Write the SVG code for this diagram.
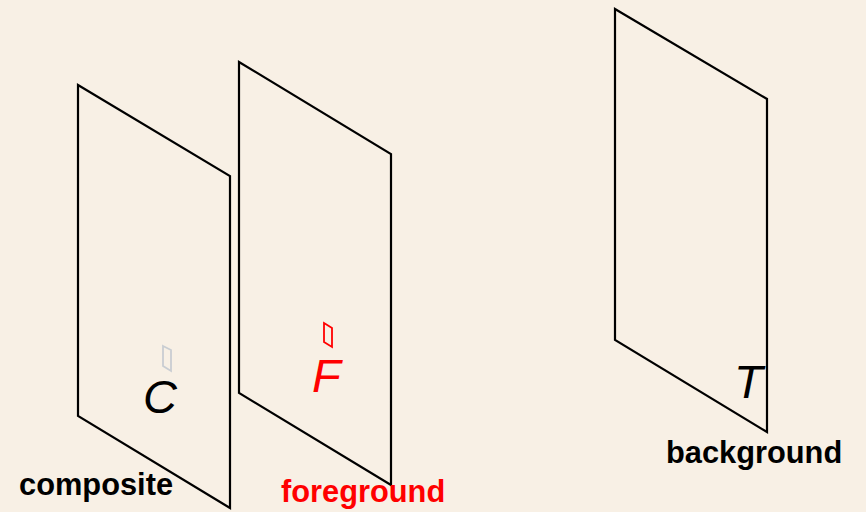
<svg xmlns="http://www.w3.org/2000/svg" width="866" height="512" viewBox="0 0 866 512">
<style>
.panel{fill:none;stroke:#000;stroke-width:2.2;stroke-linejoin:miter}
.lbl{font-family:"Liberation Sans",Arial,sans-serif;font-weight:bold;font-size:30.8px}
.sym{font-family:"Liberation Sans",Arial,sans-serif;font-style:italic;font-size:47px}
</style>
<rect width="866" height="512" fill="#f8f0e5"/>
<g id="composite">
<polygon class="panel" points="78,85 230,176 230,508 78,416"/>
<polygon points="163,346 171,350 171,371 163,366" fill="none" stroke="#c9cdd2" stroke-width="1.8"/>
<text class="sym" x="143" y="413" fill="#000">C</text>
<text class="lbl" x="19" y="495" fill="#000">composite</text>
</g>
<g id="foreground">
<polygon class="panel" points="239,62 391,154 391,485 239,393"/>
<polygon points="324,323 332,328 332,347 324,342" fill="none" stroke="#ff0000" stroke-width="1.8"/>
<text class="sym" x="312" y="392" fill="#ff0000">F</text>
<text class="lbl" x="281" y="502" fill="#ff0000">foreground</text>
</g>
<g id="background">
<polygon class="panel" points="615,9 767,99 767,432 615,340"/>
<text class="sym" x="734" y="398" fill="#000">T</text>
<text class="lbl" x="666" y="463" fill="#000">background</text>
</g>
<g id="connectors"/>
</svg>
